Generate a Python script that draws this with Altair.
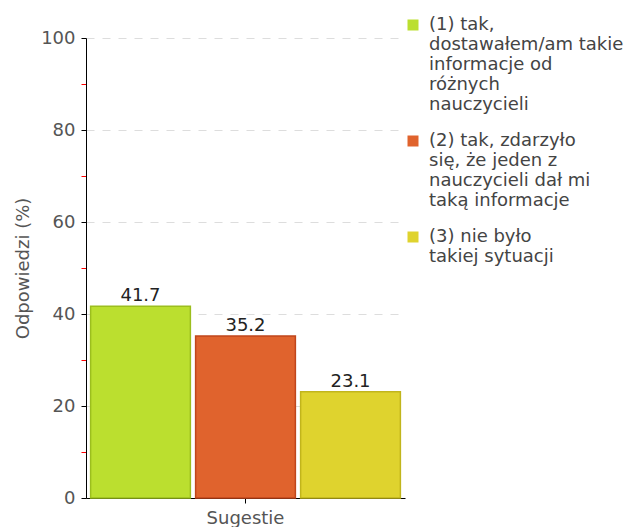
import json
import altair as alt
import pandas as pd

# ---- data ----
group = "Sugestie"
categories = ["1", "2", "3"]
values = [41.7, 35.2, 23.1]
legend_lines = [
    [" (1) tak,", "dostawałem/am takie", "informacje od", "różnych", "nauczycieli"],
    [" (2) tak, zdarzyło", "się, że jeden z", "nauczycieli dał mi", "taką informacje"],
    [" (3) nie było", "takiej sytuacji"],
]
fills = ["#BBDF2F", "#E0632D", "#DFD32E"]
strokes = ["#9CBE1E", "#C0461B", "#C1B51C"]
y_ticks = list(range(0, 101, 10))

df = pd.DataFrame({
    "group": [group] * len(categories),
    "cat": categories,
    "value": values,
    "label": [f"{v:.1f}" for v in values],
})

label_map = json.dumps(dict(zip(categories, legend_lines)), ensure_ascii=False)

FONT = "DejaVu Sans"

base = alt.Chart(df).encode(
    x=alt.X(
        "group:N",
        title=None,
        scale=alt.Scale(paddingInner=0, paddingOuter=0),
        axis=alt.Axis(
            labelAngle=0, labelFontSize=18, labelColor="#555555", labelFont=FONT,
            domainColor="#000000", tickColor="#000000", tickSize=5, labelPadding=6,
            grid=False,
        ),
    ),
    xOffset=alt.XOffset("cat:N", scale=alt.Scale(paddingInner=0.05, paddingOuter=0.044)),
    y=alt.Y(
        "value:Q",
        title="Odpowiedzi (%)",
        scale=alt.Scale(domain=[0, 100], nice=False),
        axis=alt.Axis(
            values=y_ticks,
            labelExpr="datum.value % 20 == 0 ? datum.label : ''",
            labelFontSize=18, labelColor="#555555", labelFont=FONT, labelPadding=6,
            tickSize=5,
            tickColor={"condition": {"test": "datum.value % 20 == 0", "value": "#000000"}, "value": "#ff0000"},
            domainColor="#000000",
            grid=True,
            gridColor="#dddddd",
            gridDash=[8, 8],
            gridOpacity={"condition": {"test": "datum.value % 20 == 0 && datum.value > 0", "value": 1}, "value": 0},
            titleFontSize=18, titleFontWeight="normal", titleColor="#555555", titleFont=FONT,
            titlePadding=8,
        ),
    ),
)

bars = base.mark_bar(strokeWidth=1.5).encode(
    fill=alt.Fill(
        "cat:N",
        scale=alt.Scale(domain=categories, range=fills),
        legend=alt.Legend(
            title=None, orient="none", legendX=318, legendY=-22, padding=0,
            labelExpr=f"{label_map}[datum.label]",
            labelFontSize=18, labelFont=FONT, labelColor="#444444",
            labelLimit=400, labelOffset=7,
            symbolType="square", symbolSize=121, symbolStrokeWidth=0,
            rowPadding=18,
        ),
    ),
    stroke=alt.Stroke("cat:N", scale=alt.Scale(domain=categories, range=strokes), legend=None),
)

text = base.mark_text(
    baseline="alphabetic", dy=-5, fontSize=18, font=FONT, color="#222222"
).encode(text="label:N")

chart = (
    alt.layer(bars, text)
    .properties(
        width=319, height=460,
        autosize=alt.AutoSizeParams(type="none"),
        padding={"left": 78, "top": 30, "right": 230, "bottom": 29},
    )
    .configure(font=FONT)
    .configure_view(strokeWidth=0, stroke="transparent")
)

chart.save("out.html", embed_options={"renderer": "svg", "actions": False})
